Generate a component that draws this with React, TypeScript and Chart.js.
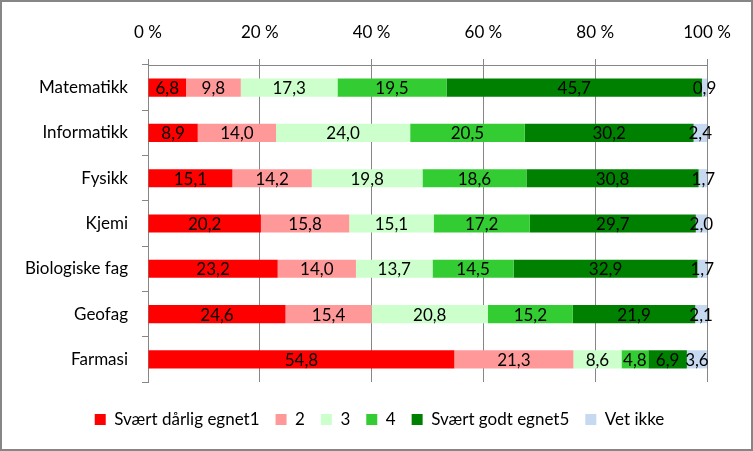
import React, { useEffect, useRef } from 'react';
import { Chart, registerables } from 'chart.js';

Chart.register(...registerables);

const categories = ['Matematikk', 'Informatikk', 'Fysikk', 'Kjemi', 'Biologiske fag', 'Geofag', 'Farmasi'];
const seriesNames = ['Svært dårlig egnet1', '2', '3', '4', 'Svært godt egnet5', 'Vet ikke'];
const s1 = [6.8, 8.9, 15.1, 20.2, 23.2, 24.6, 54.8];
const s2 = [9.8, 14.0, 14.2, 15.8, 14.0, 15.4, 21.3];
const s3 = [17.3, 24.0, 19.8, 15.1, 13.7, 20.8, 8.6];
const s4 = [19.5, 20.5, 18.6, 17.2, 14.5, 15.2, 4.8];
const s5 = [45.7, 30.2, 30.8, 29.7, 32.9, 21.9, 6.9];
const s6 = [0.9, 2.4, 1.7, 2.0, 1.7, 2.1, 3.6];
const seriesValues = [s1, s2, s3, s4, s5, s6];
const colors = ['#FF0000', '#FF9999', '#CCFFCC', '#33CC33', '#008000', '#C6D9F1'];
const xMin = 0;
const xMax = 100;
const xStep = 20;

const FONT = 'Lato, Calibri, Carlito, sans-serif';
const GRID = '#868686';

const labelPlugin = {
  id: 'segLabels',
  afterDatasetsDraw(chart: any) {
    const ctx = chart.ctx;
    ctx.save();
    ctx.font = `17px ${FONT}`;
    ctx.fillStyle = '#000';
    ctx.textAlign = 'center';
    ctx.textBaseline = 'middle';
    chart.data.datasets.forEach((ds: any, di: number) => {
      const meta = chart.getDatasetMeta(di);
      meta.data.forEach((el: any, i: number) => {
        const v = ds.data[i];
        const cx = (el.x + el.base) / 2;
        ctx.fillText(v.toFixed(1).replace('.', ','), cx, el.y + 1);
      });
    });
    ctx.restore();
  },
};

export default function App() {
  const ref = useRef<HTMLCanvasElement>(null);
  useEffect(() => {
    if (!ref.current) return;
    const chart = new Chart(ref.current, {
      type: 'bar',
      data: {
        labels: categories,
        datasets: seriesValues.map((vals, i) => ({
          label: seriesNames[i],
          data: vals,
          backgroundColor: colors[i],
          borderWidth: 0,
          barPercentage: 0.4,
          categoryPercentage: 1,
          xAxisID: 'x',
          yAxisID: 'y',
        })),
      },
      options: {
        indexAxis: 'y',
        animation: false,
        responsive: false,
        maintainAspectRatio: false,
        layout: { padding: { left: 6, right: 0, top: 0, bottom: 11 } },
        plugins: {
          tooltip: { enabled: false },
          legend: {
            position: 'bottom',
            labels: {
              boxWidth: 11,
              boxHeight: 11,
              padding: 16,
              color: '#000',
              font: { family: FONT, size: 17 },
            },
          },
        },
        scales: {
          x: {
            type: 'linear',
            position: 'top',
            stacked: true,
            min: xMin,
            max: xMax,
            afterFit: (s: any) => { s.height = 63; },
            ticks: {
              stepSize: xStep,
              padding: 16,
              color: '#000',
              font: { family: FONT, size: 17 },
              callback: (v: any) => `${v} %`,
            },
            grid: { color: GRID, lineWidth: 1, tickLength: 6, drawTicks: true },
            border: { display: true, color: GRID, width: 1 },
          },
          xb: {
            type: 'linear',
            axis: 'x',
            position: 'bottom',
            display: true,
            afterFit: (s: any) => { s.height = 13; },
            ticks: { display: false },
            grid: { display: false },
            border: { display: false },
          },
          yr: {
            type: 'linear',
            axis: 'y',
            position: 'right',
            display: true,
            afterFit: (s: any) => { s.width = 44; },
            ticks: { display: false },
            grid: { display: false },
            border: { display: false },
          },
          y: {
            type: 'category',
            stacked: true,
            afterFit: (s: any) => { s.width = 140; },
            ticks: {
              padding: 14,
              color: '#000',
              font: { family: FONT, size: 17 },
            },
            grid: { drawOnChartArea: false, drawTicks: true, tickLength: 6, color: GRID, offset: true },
            border: { display: true, color: GRID, width: 1 },
          },
        },
      },
      plugins: [labelPlugin],
    } as any);
    return () => chart.destroy();
  }, []);
  return (
    <div
      style={{
        position: 'fixed',
        left: 0,
        top: 0,
        width: 753,
        height: 451,
        boxSizing: 'border-box',
        border: '2px solid #868686',
        background: '#fff',
      }}
    >
      <canvas ref={ref} width={749} height={447} style={{ display: 'block' }} />
    </div>
  );
}
